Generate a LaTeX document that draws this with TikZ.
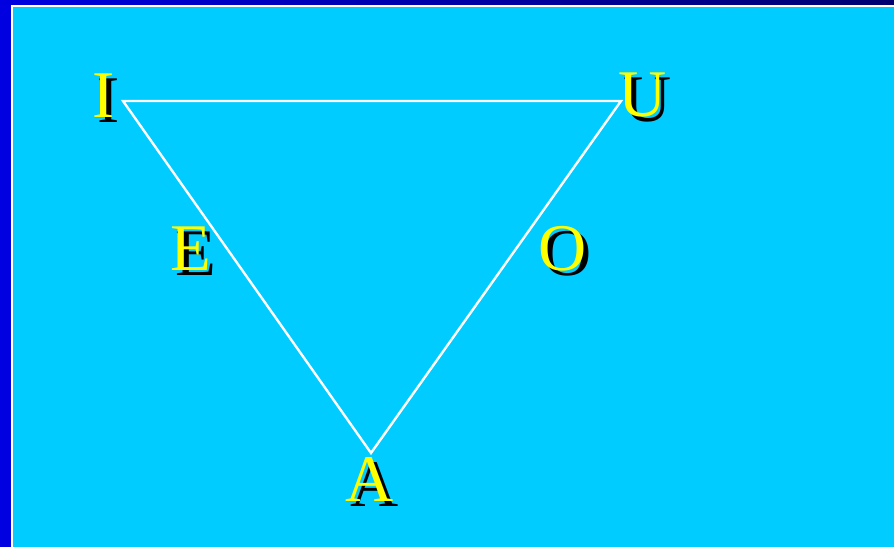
\documentclass[tikz,border=0pt]{standalone}
\usepackage{fontspec}
\setmainfont{Liberation Serif}
\usetikzlibrary{calc}
\definecolor{slideBlue}{HTML}{0000E0}
\definecolor{slideNavy}{HTML}{000070}
\definecolor{slideCyan}{HTML}{00CCFF}
\definecolor{vowelYellow}{HTML}{FFFF00}
\tikzset{
  vowel/.style={inner sep=0pt, text=vowelYellow, font=\fontsize{50}{50}\selectfont},
  vowelshadow/.style={vowel, text=black},
  edge/.style={draw=white, line width=1.8pt, line join=miter}
}

\begin{document}
\begin{tikzpicture}[x=0.75pt, y=-0.75pt]
  \useasboundingbox (0,0) rectangle (894,547);
  % slide frame
  \fill[slideBlue] (0,0) rectangle (894,547);
  \shade[left color=slideBlue, right color=slideNavy] (0,0) rectangle (894,4.5);
  \fill[white] (10.5,4.5) rectangle (894,547);
  \fill[slideCyan] (13,7) rectangle (894,547);

  % corners of the triangle
  \coordinate (cI) at (123,101);
  \coordinate (cU) at (621,101);
  \coordinate (cA) at (371,453);
  \draw[edge] (cI) -- (cU) -- (cA) -- cycle;

  % shadows
  \node[vowelshadow] (iShadow) at (109,101) {I};
  \node[vowelshadow] (uShadow) at (648,100) {U};
  \node[vowelshadow] (eShadow) at (196,254) {E};
  \node[vowelshadow] (oShadow) at (568,254) {O};
  \node[vowelshadow] (aShadow) at (375,484) {A};

  % letters
  \node[vowel] (iLetter) at (104,96) {I};
  \node[vowel] (uLetter) at (643,95) {U};
  \node[vowel] (eLetter) at (191,249) {E};
  \node[vowel] (oLetter) at (563,249) {O};
  \node[vowel] (aLetter) at (370,479) {A};
\end{tikzpicture}
\end{document}
